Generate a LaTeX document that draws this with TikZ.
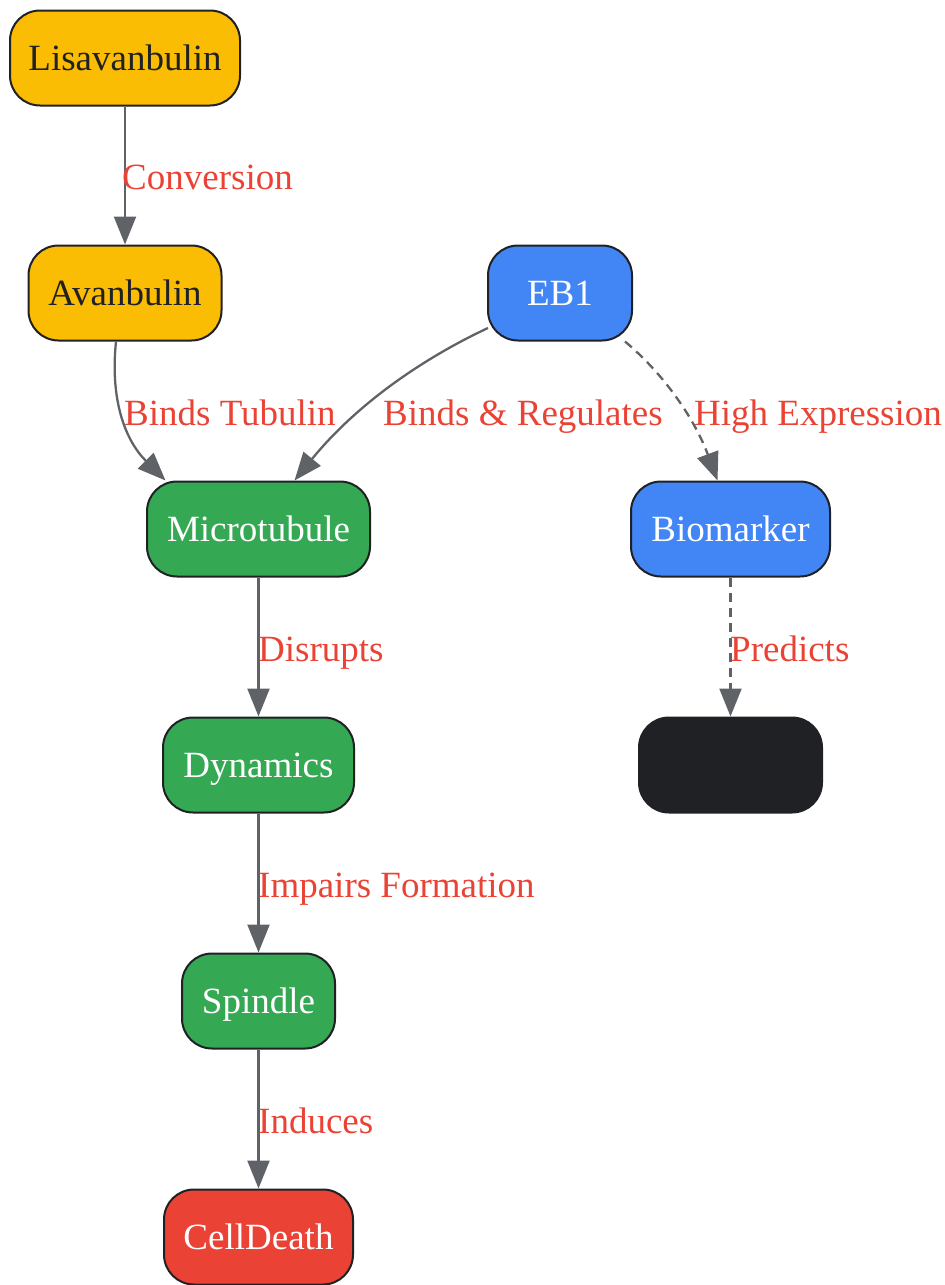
\documentclass[tikz,border=0pt]{standalone}
\usepackage{fontspec}
\setmainfont{Liberation Serif}
\usetikzlibrary{arrows.meta}
\definecolor{gyellow}{HTML}{FBBC04}
\definecolor{gblue}{HTML}{4285F4}
\definecolor{ggreen}{HTML}{34A853}
\definecolor{gred}{HTML}{EA4335}
\definecolor{gdark}{HTML}{202124}
\definecolor{ggray}{HTML}{5F6368}
\begin{document}
\begin{tikzpicture}[x=1pt,y=-1pt,
  box/.style={draw=gdark,line width=2pt,rounded corners=30pt,minimum height=95pt,inner sep=0pt,text depth=0pt,font=\fontsize{37}{40}\selectfont},
  ybox/.style={box,fill=gyellow,text=gdark},
  bbox/.style={box,fill=gblue,text=white},
  gbox/.style={box,fill=ggreen,text=white},
  rbox/.style={box,fill=gred,text=white},
  kbox/.style={box,fill=gdark},
  conn/.style={draw=ggray,line width=2.3pt,-{Triangle[length=28pt,width=22pt]}},
  dconn/.style={conn,dash pattern=on 9pt off 6pt},
  lbl/.style={text=gred,font=\fontsize{37}{40}\selectfont,inner sep=0pt,text depth=0pt,anchor=west}
]
\useasboundingbox (0,0) rectangle (945,1285);
\node[ybox,minimum width=230pt] (lisa) at (125,58) {Lisavanbulin};
\node[ybox,minimum width=193pt] (avan) at (125,293) {Avanbulin};
\node[bbox,minimum width=144pt] (eb1) at (560,293) {EB1};
\node[gbox,minimum width=223pt] (micro) at (258.5,529) {Microtubule};
\node[bbox,minimum width=199pt] (bio) at (730.5,529) {Biomarker};
\node[kbox,minimum width=183pt] (blk) at (730.5,765) {};
\node[gbox,minimum width=191pt] (dyn) at (258.5,765) {Dynamics};
\node[gbox,minimum width=153pt] (spin) at (258.5,1001) {Spindle};
\node[rbox,minimum width=189pt] (death) at (258.5,1237) {CellDeath};

\draw[conn] (lisa.south) -- (avan.north);
\node[lbl] (l1) at (122,177) {Conversion};

\draw[conn] ([xshift=-9pt]avan.south) .. controls (110,400) and (125,440) .. ([xshift=-93pt]micro.north);
\node[lbl] (l2) at (124,413) {Binds Tubulin};

\draw[conn] ([shift={(1pt,-35pt)}]eb1.west) .. controls (430,355) and (360,400) .. ([xshift=36pt]micro.north);
\node[lbl] (l3) at (383,413) {Binds \& Regulates};

\draw[dconn] ([xshift=65pt]eb1.south) .. controls (665,375) and (695,420) .. ([xshift=-13pt]bio.north);
\node[lbl] (l4) at (694,413) {High Expression};

\draw[conn] (micro.south) -- (dyn.north);
\node[lbl] (l5) at (258,649) {Disrupts};

\draw[dconn] (bio.south) -- (blk.north);
\node[lbl] (l6) at (730,649) {Predicts};

\draw[conn] (dyn.south) -- (spin.north);
\node[lbl] (l7) at (258,885) {Impairs Formation};

\draw[conn] (spin.south) -- (death.north);
\node[lbl] (l8) at (258,1121) {Induces};
\end{tikzpicture}
\end{document}
